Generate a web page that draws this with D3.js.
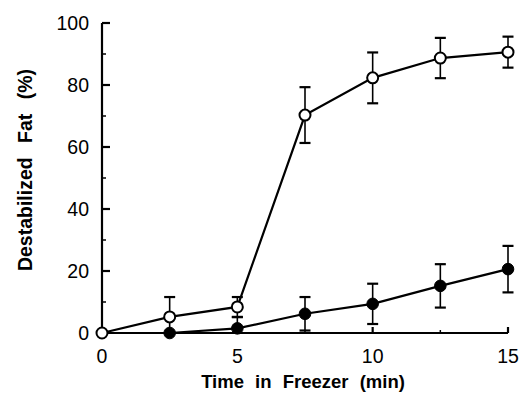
<!DOCTYPE html>
<html>
<head>
<meta charset="utf-8">
<script src="https://cdn.jsdelivr.net/npm/d3@7"></script>
<style>
  body { margin: 0; background: #fff; }
  svg text { font-family: "Liberation Sans", Arial, Helvetica, sans-serif; fill: #000; }
</style>
</head>
<body>
<svg id="chart" width="520" height="395"></svg>
<script>
// time points (min)
const times = [0, 2.5, 5, 7.5, 10, 12.5, 15]
// open circles
const openVals = [0, 5.2, 8.4, 70.3, 82.3, 88.7, 90.6]
const openErr  = [0, 6.4, 3.2, 9, 8.2, 6.5, 5]
// filled circles
const filledVals = [0, 0, 1.5, 6.2, 9.4, 15.2, 20.6]
const filledErr  = [0, 0, 3.6, 5.4, 6.5, 7, 7.5]

const yTicks = [0, 20, 40, 60, 80, 100]
const yMinor = [10, 30, 50, 70, 90]
const xTicks = [0, 5, 10, 15]
const xMinor = [2.5, 7.5, 12.5]

const svg = d3.select("#chart")
const x = d3.scaleLinear().domain([0, 15]).range([102, 508])
const y = d3.scaleLinear().domain([0, 100]).range([333, 23]).clamp(true)

const toPts = (vals, errs) => times.map((t, i) => ({t: t, v: vals[i], e: errs[i]}))
const openPts = toPts(openVals, openErr)
const filledPts = toPts(filledVals, filledErr)

// axes - drawn by hand with inward ticks, like the old print style
const axes = svg.append("g").attr("stroke", "#000").attr("stroke-width", 2.2).attr("fill", "none")
axes.append("path").attr("d", "M" + x(0) + "," + y(100) + "V" + y(0) + "H" + x(15))
axes.selectAll(".ymaj").data(yTicks.filter(d => d > 0)).enter().append("line")
  .attr("x1", x(0)).attr("x2", x(0) + 8).attr("y1", d => y(d)).attr("y2", d => y(d))
axes.selectAll(".ymin").data(yMinor).enter().append("line")
  .attr("x1", x(0)).attr("x2", x(0) + 4).attr("y1", d => y(d)).attr("y2", d => y(d))
  .attr("stroke-width", 1.5)
axes.selectAll(".xmaj").data(xTicks.filter(d => d > 0)).enter().append("line")
  .attr("x1", d => x(d)).attr("x2", d => x(d)).attr("y1", y(0)).attr("y2", y(0) - 6)
axes.selectAll(".xmin").data(xMinor).enter().append("line")
  .attr("x1", d => x(d)).attr("x2", d => x(d)).attr("y1", y(0)).attr("y2", y(0) - 3)
  .attr("stroke-width", 1.5)

// tick labels
svg.selectAll(".ylab").data(yTicks).enter().append("text")
  .attr("x", 89).attr("y", d => y(d)).attr("dy", "0.36em")
  .attr("text-anchor", "end").attr("font-size", 19.5)
  .text(d => d)
svg.selectAll(".xlab").data(xTicks).enter().append("text")
  .attr("x", d => x(d)).attr("y", 356).attr("dy", "0.36em")
  .attr("text-anchor", "middle").attr("font-size", 19.5)
  .text(d => d)

// axis titles
svg.append("text")
  .attr("x", 303).attr("y", 388)
  .attr("text-anchor", "middle").attr("font-size", 18.5).attr("font-weight", "bold")
  .attr("word-spacing", 6)
  .text("Time in Freezer (min)")
svg.append("text")
  .attr("transform", "translate(32,170) rotate(-90)")
  .attr("text-anchor", "middle").attr("font-size", 19.5).attr("font-weight", "bold")
  .attr("word-spacing", 9)
  .text("Destabilized Fat (%)")

const line = d3.line().x(d => x(d.t)).y(d => y(d.v))

function drawSeries(pts) {
  const g = svg.append("g")
  g.append("path").datum(pts).attr("d", line)
    .attr("fill", "none").attr("stroke", "#000").attr("stroke-width", 2.2)
  const eb = g.selectAll(".eb").data(pts.filter(d => d.e > 0)).enter().append("g")
    .attr("stroke", "#000").attr("fill", "none")
  eb.append("line").attr("x1", d => x(d.t)).attr("x2", d => x(d.t))
    .attr("y1", d => y(d.v - d.e)).attr("y2", d => y(d.v + d.e)).attr("stroke-width", 1.6)
  eb.append("line").attr("x1", d => x(d.t) - 5.5).attr("x2", d => x(d.t) + 5.5)
    .attr("y1", d => y(d.v + d.e)).attr("y2", d => y(d.v + d.e)).attr("stroke-width", 2.2)
  eb.filter(d => d.v - d.e > 0).append("line").attr("x1", d => x(d.t) - 5.5).attr("x2", d => x(d.t) + 5.5)
    .attr("y1", d => y(d.v - d.e)).attr("y2", d => y(d.v - d.e)).attr("stroke-width", 2.2)
  return g
}

const gFilled = drawSeries(filledPts)
const gOpen = drawSeries(openPts)

gFilled.selectAll("circle").data(filledPts.filter(d => d.t > 0)).enter().append("circle")
  .attr("cx", d => x(d.t)).attr("cy", d => y(d.v)).attr("r", 5.8)
  .attr("fill", "#000").attr("stroke", "#000").attr("stroke-width", 1)
gOpen.selectAll("circle").data(openPts).enter().append("circle")
  .attr("cx", d => x(d.t)).attr("cy", d => y(d.v)).attr("r", 5.5)
  .attr("fill", "#fff").attr("stroke", "#000").attr("stroke-width", 2)
</script>
</body>
</html>
